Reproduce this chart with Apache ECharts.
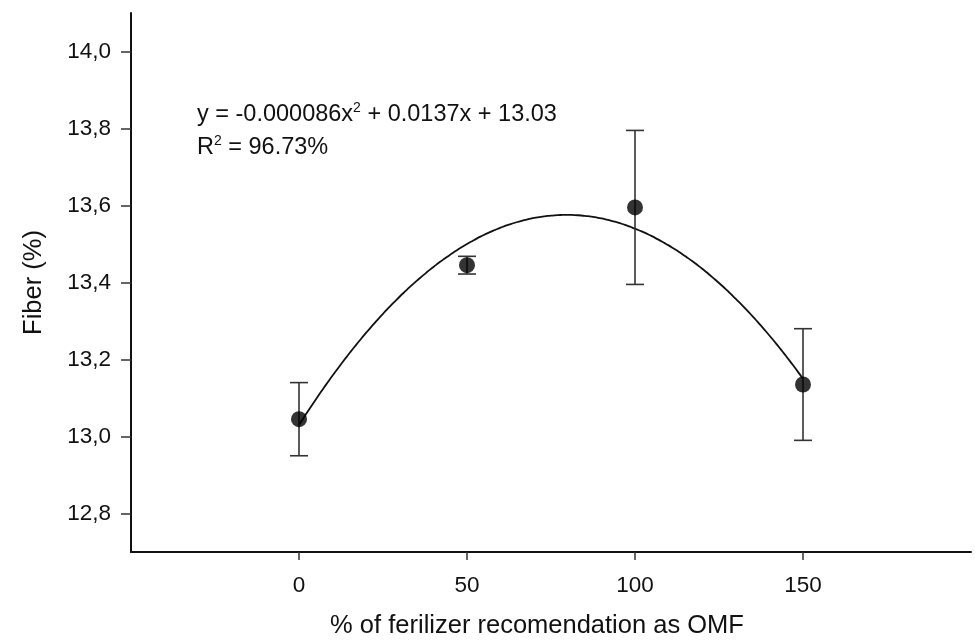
<!DOCTYPE html>
<html>
<head>
<meta charset="utf-8">
<script src="https://cdn.jsdelivr.net/npm/echarts@6/dist/echarts.min.js"></script>
<style>
  html, body { margin: 0; padding: 0; background: #fff; }
  #chart { width: 975px; height: 641px; }
</style>
</head>
<body>
<div id="chart"></div>
<script>
// OMF dose (% of fertilizer recommendation)
const doses = [0, 50, 100, 150];
// Mean fiber content (%) and error half-widths
const fiberMean = [13.045, 13.445, 13.595, 13.135];
const fiberErr = [0.095, 0.023, 0.2, 0.145];
// Quadratic fit: y = a*x^2 + b*x + c
const fitCoef = [-0.000086, 0.0137, 13.03];
const fitR2 = '96.73%';
// Axis ticks
const xTicks = [0, 50, 100, 150];
const yTicks = [12.8, 13.0, 13.2, 13.4, 13.6, 13.8, 14.0];

const FONT = '"Liberation Sans", Arial, sans-serif';

// Fitted curve over the tested range
const fitLine = [];
for (let x = doses[0]; x <= doses[doses.length - 1]; x += 1) {
  fitLine.push([x, fitCoef[0] * x * x + fitCoef[1] * x + fitCoef[2]]);
}

const points = doses.map((d, i) => [d, fiberMean[i]]);
const bars = doses.map((d, i) => [d, fiberMean[i] - fiberErr[i], fiberMean[i] + fiberErr[i]]);

const chart = echarts.init(document.getElementById('chart'), null, { renderer: 'canvas' });

chart.setOption({
  backgroundColor: '#fff',
  animation: false,
  grid: { left: 131, right: 4, top: 13, bottom: 89, containLabel: false, outerBoundsMode: 'none' },
  xAxis: {
    type: 'value',
    min: -50,
    max: 200,
    name: '% of ferilizer recomendation as OMF',
    nameLocation: 'middle',
    nameGap: 61,
    nameTextStyle: { fontFamily: FONT, fontSize: 25.5, color: '#111', padding: [0, 28, 0, 0] },
    splitLine: { show: false },
    axisLine: { onZero: false, lineStyle: { color: '#111', width: 2 } },
    axisTick: { customValues: xTicks, length: 8, lineStyle: { color: '#333', width: 1.5 } },
    axisLabel: { customValues: xTicks, margin: 22, fontFamily: FONT, fontSize: 22.5, color: '#111' }
  },
  yAxis: {
    type: 'value',
    min: 12.7,
    max: 14.1,
    name: 'Fiber (%)',
    nameLocation: 'middle',
    nameGap: 84,
    nameTextStyle: { fontFamily: FONT, fontSize: 25.5, color: '#111' },
    splitLine: { show: false },
    axisLine: { show: true, onZero: false, lineStyle: { color: '#111', width: 2 } },
    axisTick: { show: true, customValues: yTicks, length: 10, lineStyle: { color: '#333', width: 1.5 } },
    axisLabel: {
      customValues: yTicks, margin: 20, fontFamily: FONT, fontSize: 22.5, color: '#111',
      formatter: v => v.toFixed(1).replace('.', ',')
    }
  },
  graphic: [{
    type: 'text',
    left: 197,
    top: 101,
    style: {
      text: '{b|y = -0.000086x}{s|2}{b| + 0.0137x + 13.03}\n{b|R}{s|2}{b| = ' + fitR2 + '}',
      fontFamily: FONT,
      fill: '#111',
      rich: {
        b: { fontFamily: FONT, fontSize: 23.5, lineHeight: 33, verticalAlign: 'bottom', fill: '#111' },
        s: { fontFamily: FONT, fontSize: 14, lineHeight: 33, verticalAlign: 'bottom', padding: [0, 0, 12, 0], fill: '#111' }
      }
    }
  }],
  series: [
    {
      name: 'fit',
      type: 'line',
      data: fitLine,
      smooth: true,
      showSymbol: false,
      lineStyle: { color: '#111', width: 1.8 },
      z: 2
    },
    {
      name: 'error',
      type: 'custom',
      data: bars,
      encode: { x: 0, y: [1, 2] },
      renderItem: (params, api) => {
        const x = api.value(0);
        const lo = api.coord([x, api.value(1)]);
        const hi = api.coord([x, api.value(2)]);
        const half = 9;
        const style = { stroke: '#333', lineWidth: 1.6 };
        return {
          type: 'group',
          children: [
            { type: 'line', shape: { x1: lo[0], y1: lo[1], x2: hi[0], y2: hi[1] }, style },
            { type: 'line', shape: { x1: hi[0] - half, y1: hi[1], x2: hi[0] + half, y2: hi[1] }, style },
            { type: 'line', shape: { x1: lo[0] - half, y1: lo[1], x2: lo[0] + half, y2: lo[1] }, style }
          ]
        };
      },
      z: 3
    },
    {
      name: 'mean',
      type: 'scatter',
      data: points,
      symbol: 'circle',
      symbolSize: 16,
      itemStyle: { color: '#000' },
      z: 4
    }
  ]
});
</script>
</body>
</html>
